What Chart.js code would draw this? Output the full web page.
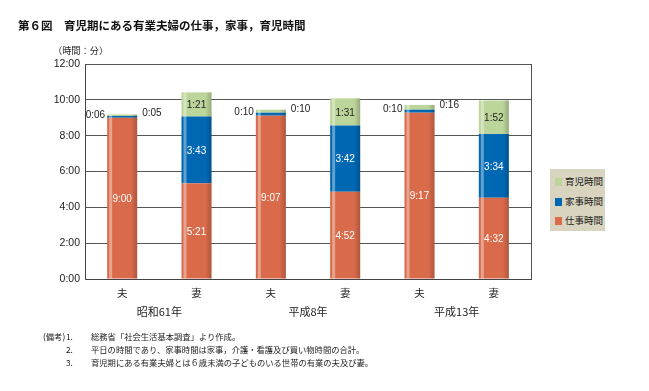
<!DOCTYPE html>
<html>
<head>
<meta charset="utf-8">
<script src="https://cdn.jsdelivr.net/npm/chart.js@4.4.0/dist/chart.umd.min.js"></script>
<style>
  body { margin: 0; background: #fff; }
  #wrap { position: relative; width: 649px; height: 391px; overflow: hidden; font-family: "Noto Sans CJK JP", sans-serif; color: #111; }
  #chart { position: absolute; left: 0; top: 0; }
  .txt { position: absolute; white-space: nowrap; }
  #title { left: 18px; top: 17px; font-size: 11.5px; line-height: 16px; font-weight: 600; }
  #unit { left: 53px; top: 44px; font-size: 9.2px; line-height: 12px; color: #222; }
  #legend { position: absolute; left: 550px; top: 169px; width: 55px; height: 62px; background: #d9d4bf; }
  #legend .item { position: absolute; left: 5px; font-size: 9.5px; line-height: 12px; color: #222; }
  #legend .box { display: inline-block; width: 7px; height: 8px; margin-right: 3px; vertical-align: -1px; }
  .note { font-size: 8.3px; line-height: 12px; color: #222; }
</style>
</head>
<body>
<div id="wrap">
  <canvas id="chart" width="649" height="391"></canvas>
  <div class="txt" id="title">第６図　育児期にある有業夫婦の仕事，家事，育児時間</div>
  <div class="txt" id="unit">（時間：分）</div>
  <div id="legend"></div>
  <div class="txt note" style="left:43px;top:330px;">(備考)</div>
  <div class="txt note" style="left:66px;top:330px;">1.</div>
  <div class="txt note" style="left:91px;top:330px;">総務省「社会生活基本調査」より作成。</div>
  <div class="txt note" style="left:66px;top:343px;">2.</div>
  <div class="txt note" style="left:91px;top:343px;">平日の時間であり、家事時間は家事，介護・看護及び買い物時間の合計。</div>
  <div class="txt note" style="left:66px;top:356px;">3.</div>
  <div class="txt note" style="left:91px;top:356px;">育児期にある有業夫婦とは６歳未満の子どものいる世帯の有業の夫及び妻。</div>
</div>
<script>
// categories (husband / wife per survey year)
var categories = ['夫', '妻', '夫', '妻', '夫', '妻'];
var groupLabels = ['昭和61年', '平成8年', '平成13年'];

// minutes per day
var workTime = [540, 321, 547, 292, 557, 272];      // 仕事時間
var houseTime = [6, 223, 10, 222, 10, 214];         // 家事時間
var childTime = [5, 81, 10, 91, 16, 112];           // 育児時間

var yTicks = [0, 120, 240, 360, 480, 600, 720];

function fmt(m) {
  var h = Math.floor(m / 60), mm = m % 60;
  return h + ':' + (mm < 10 ? '0' : '') + mm;
}

// light stripe and darker right edge on each bar
var sheenPlugin = {
  id: 'sheen',
  afterDatasetsDraw: function(chart) {
    var ctx = chart.ctx;
    ctx.save();
    chart.data.datasets.forEach(function(ds, i) {
      chart.getDatasetMeta(i).data.forEach(function(bar) {
        var p = bar.getProps(['x', 'y', 'base', 'width'], true);
        var left = p.x - p.width / 2, top = Math.min(p.y, p.base), h = Math.abs(p.base - p.y);
        ctx.fillStyle = 'rgba(255,255,255,0.38)';
        ctx.fillRect(left + 2, top, 3, h);
        var g = ctx.createLinearGradient(p.x + p.width / 2 - 6, 0, p.x + p.width / 2, 0);
        g.addColorStop(0, 'rgba(0,0,0,0)');
        g.addColorStop(1, 'rgba(0,0,0,0.2)');
        ctx.fillStyle = g;
        ctx.fillRect(p.x + p.width / 2 - 6, top, 6, h);
      });
    });
    ctx.restore();
  }
};

// value labels
var labelPlugin = {
  id: 'valueLabels',
  afterDatasetsDraw: function(chart) {
    var ctx = chart.ctx;
    ctx.save();
    ctx.font = '10px "Liberation Sans", Arial, sans-serif';
    ctx.textBaseline = 'middle';
    chart.data.datasets.forEach(function(ds, i) {
      chart.getDatasetMeta(i).data.forEach(function(bar, j) {
        var p = bar.getProps(['x', 'y', 'base', 'width'], true);
        var h = Math.abs(p.base - p.y);
        var cy = (p.y + p.base) / 2;
        var txt = fmt(ds.data[j]);
        if (h > 14) {
          ctx.textAlign = 'center';
          ctx.fillStyle = i == 2 ? '#222' : '#fff';
          ctx.fillText(txt, p.x, cy + 1);
        } else if (i == 1) {
          ctx.textAlign = 'right';
          ctx.fillStyle = '#222';
          ctx.fillText(txt, p.x - p.width / 2 - 2, cy - 2);
        } else if (i == 2) {
          ctx.textAlign = 'left';
          ctx.fillStyle = '#222';
          ctx.fillText(txt, p.x + p.width / 2 + 5, cy - 2);
        }
      });
    });
    ctx.restore();
  }
};

// right border of the plot
var framePlugin = {
  id: 'frame',
  beforeDatasetsDraw: function(chart) {
    var a = chart.chartArea, ctx = chart.ctx;
    ctx.save();
    ctx.strokeStyle = '#555';
    ctx.lineWidth = 1;
    ctx.beginPath();
    ctx.moveTo(a.right + 0.5, a.top);
    ctx.lineTo(a.right + 0.5, a.bottom);
    ctx.stroke();
    ctx.restore();
  }
};

var ctx = document.getElementById('chart').getContext('2d');
var chart = new Chart(ctx, {
  type: 'bar',
  data: {
    labels: categories,
    datasets: [
      { label: '仕事時間', data: workTime, backgroundColor: '#d96b4b' },
      { label: '家事時間', data: houseTime, backgroundColor: '#0068b3' },
      { label: '育児時間', data: childTime, backgroundColor: '#bcd59a' }
    ]
  },
  options: {
    responsive: false,
    animation: false,
    layout: { padding: { left: 0, top: 64, right: 118, bottom: 70 } },
    datasets: { bar: { categoryPercentage: 1, barPercentage: 0.404 } },
    plugins: { legend: { display: false }, tooltip: { enabled: false } },
    scales: {
      x: {
        stacked: true,
        grid: { display: false, drawTicks: false },
        border: { display: true, color: '#444' },
        ticks: { padding: 8, color: '#222', font: { family: '"Noto Sans CJK JP"', size: 10.5 } },
        afterFit: function(s) { s.height = 22; }
      },
      x2: {
        type: 'category',
        labels: groupLabels,
        position: 'bottom',
        offset: true,
        grid: { display: false, drawTicks: false },
        border: { display: false },
        ticks: { padding: 4, color: '#222', font: { family: '"Noto Sans CJK JP"', size: 11 } },
        afterFit: function(s) { s.height = 20; }
      },
      y: {
        stacked: true,
        min: 0,
        max: 720,
        afterBuildTicks: function(s) { s.ticks = yTicks.map(function(v) { return { value: v }; }); },
        grid: { color: '#555', drawTicks: false },
        border: { display: true, color: '#444' },
        ticks: {
          padding: 5,
          color: '#222',
          font: { family: '"Liberation Sans", Arial, sans-serif', size: 10.5 },
          callback: function(v) { return fmt(v); }
        },
        afterFit: function(s) { s.width = 85; }
      }
    }
  },
  plugins: [framePlugin, sheenPlugin, labelPlugin]
});

// legend box, top item first
var legend = document.getElementById('legend');
chart.data.datasets.slice().reverse().forEach(function(ds, k) {
  var d = document.createElement('div');
  d.className = 'item';
  d.style.top = (6 + k * 19.7) + 'px';
  d.innerHTML = '<span class="box" style="background:' + ds.backgroundColor + '"></span>' + ds.label;
  legend.appendChild(d);
});
</script>
</body>
</html>
